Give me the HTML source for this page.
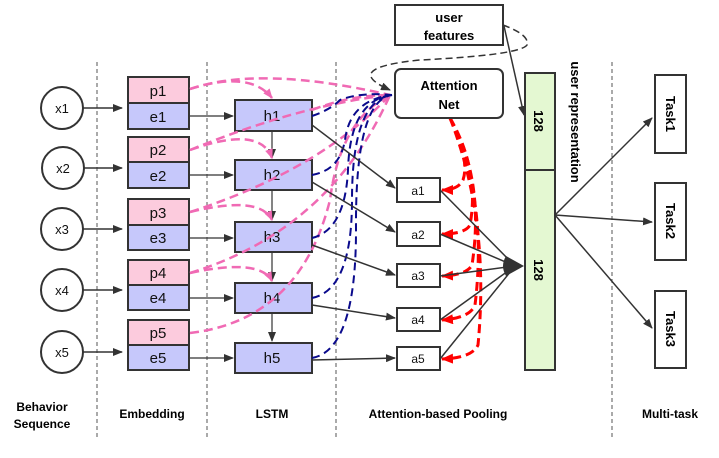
<!DOCTYPE html>
<html><head><style>
body{margin:0;background:#fff;}
svg text{font-family:"Comic Sans MS","Liberation Sans",sans-serif;}
</style></head><body>
<svg width="719" height="453" viewBox="0 0 719 453" xmlns="http://www.w3.org/2000/svg">
<defs>
<marker id="ak" markerWidth="10" markerHeight="8" refX="9" refY="4" orient="auto" markerUnits="userSpaceOnUse"><path d="M0,0 L10,4 L0,8 z" fill="#333"/></marker>
<marker id="ap" markerWidth="10" markerHeight="8" refX="9" refY="4" orient="auto" markerUnits="userSpaceOnUse"><path d="M0,0 L10,4 L0,8 z" fill="#f06ab4"/></marker>
<marker id="ar" markerWidth="12" markerHeight="10" refX="11" refY="5" orient="auto" markerUnits="userSpaceOnUse"><path d="M0,0 L12,5 L0,10 z" fill="#f00"/></marker>
</defs>
<g stroke="#555" stroke-dasharray="4,3" stroke-width="1">
<line x1="97" y1="62" x2="97" y2="440"/><line x1="207" y1="62" x2="207" y2="440"/>
<line x1="336" y1="62" x2="336" y2="440"/><line x1="612" y1="62" x2="612" y2="440"/>
</g>
<!-- circles -->
<g fill="#fff" stroke="#333" stroke-width="2">
<circle cx="62" cy="108" r="21"/><circle cx="63" cy="168" r="21"/><circle cx="62" cy="229" r="21"/><circle cx="62" cy="290" r="21"/><circle cx="62" cy="352" r="21"/>
</g>
<g font-size="13" text-anchor="middle" fill="#111">
<text x="62" y="113">x1</text><text x="63" y="173">x2</text><text x="62" y="234">x3</text><text x="62" y="295">x4</text><text x="62" y="357">x5</text>
</g>
<g stroke="#333" stroke-width="1.5" marker-end="url(#ak)">
<line x1="83" y1="108" x2="122" y2="108"/><line x1="84" y1="168" x2="122" y2="168"/><line x1="83" y1="229" x2="122" y2="229"/><line x1="83" y1="290" x2="122" y2="290"/><line x1="83" y1="352" x2="122" y2="352"/>
</g>
<!-- embeddings -->
<g stroke="#333" stroke-width="2">
<rect x="128" y="77" width="61" height="26" fill="#fccbdd"/><rect x="128" y="103" width="61" height="26" fill="#c6c8fb"/>
<rect x="128" y="137" width="61" height="25" fill="#fccbdd"/><rect x="128" y="162" width="61" height="26" fill="#c6c8fb"/>
<rect x="128" y="199" width="61" height="26" fill="#fccbdd"/><rect x="128" y="225" width="61" height="25" fill="#c6c8fb"/>
<rect x="128" y="260" width="61" height="25" fill="#fccbdd"/><rect x="128" y="285" width="61" height="25" fill="#c6c8fb"/>
<rect x="128" y="320" width="61" height="25" fill="#fccbdd"/><rect x="128" y="345" width="61" height="25" fill="#c6c8fb"/>
</g>
<g font-size="15" text-anchor="middle" fill="#111">
<text x="158" y="96">p1</text><text x="158" y="122">e1</text><text x="158" y="155">p2</text><text x="158" y="181">e2</text>
<text x="158" y="218">p3</text><text x="158" y="243">e3</text><text x="158" y="278">p4</text><text x="158" y="303">e4</text>
<text x="158" y="338">p5</text><text x="158" y="363">e5</text>
</g>
<g stroke="#333" stroke-width="1.2" marker-end="url(#ak)">
<line x1="190" y1="116" x2="233" y2="116"/><line x1="190" y1="175" x2="233" y2="175"/><line x1="190" y1="238" x2="233" y2="238"/><line x1="190" y1="298" x2="233" y2="298"/><line x1="190" y1="358" x2="233" y2="358"/>
<line x1="272" y1="131" x2="272" y2="158"/><line x1="272" y1="190" x2="272" y2="220"/><line x1="272" y1="252" x2="272" y2="281"/><line x1="272" y1="313" x2="272" y2="341"/>
</g>
<!-- h boxes -->
<g stroke="#333" stroke-width="2" fill="#c6c8fb">
<rect x="235" y="100" width="77" height="31"/><rect x="235" y="160" width="77" height="30"/><rect x="235" y="222" width="77" height="30"/><rect x="235" y="283" width="77" height="30"/><rect x="235" y="343" width="77" height="30"/>
</g>
<g font-size="15" text-anchor="middle" fill="#111">
<text x="272" y="121">h1</text><text x="272" y="180">h2</text><text x="272" y="242">h3</text><text x="272" y="303">h4</text><text x="272" y="363">h5</text>
</g>
<!-- pink dashed -->
<g fill="none" stroke="#f06ab4" stroke-width="2.5" stroke-dasharray="9,5">
<path d="M190,89 Q260,65 390,95"/><path d="M190,89 Q250,70 272,98" marker-end="url(#ap)"/>
<path d="M190,150 Q260,125 272,158" marker-end="url(#ap)"/><path d="M190,150 Q300,105 390,95"/>
<path d="M190,212 Q260,195 272,220" marker-end="url(#ap)"/><path d="M190,212 Q320,170 390,95"/>
<path d="M190,273 Q260,258 272,281" marker-end="url(#ap)"/><path d="M190,273 Q330,230 390,95"/>
<path d="M190,333 Q300,320 330,200 Q340,120 390,95"/>
<path d="M312,110 Q350,95 390,95"/>
</g>
<!-- blue dashed -->
<g fill="none" stroke="#0a0a8c" stroke-width="2" stroke-dasharray="8,5">
<path d="M312,116 Q330,110 340,100 Q360,92 392,95"/>
<path d="M312,175 Q340,170 345,140 Q350,100 392,95"/>
<path d="M312,238 Q345,230 348,170 Q350,100 392,95"/>
<path d="M312,298 Q352,290 352,200 Q352,100 392,95"/>
<path d="M312,358 Q356,350 356,230 Q355,100 392,95"/>
</g>
<!-- gray dashed loop -->
<path d="M503,25 Q530,35 527,45 Q520,55 420,60 Q340,68 390,90" fill="none" stroke="#333" stroke-width="1.5" stroke-dasharray="7,4" marker-end="url(#ak)"/>
<!-- black h->a -->
<g stroke="#333" stroke-width="1.5" marker-end="url(#ak)">
<line x1="312" y1="125" x2="395" y2="188"/><line x1="312" y1="182" x2="395" y2="232"/><line x1="312" y1="245" x2="395" y2="275"/><line x1="312" y1="305" x2="395" y2="318"/><line x1="312" y1="360" x2="395" y2="358"/>
</g>
<!-- a boxes -->
<g stroke="#333" stroke-width="2" fill="#fff">
<rect x="397" y="178" width="43" height="24"/><rect x="397" y="222" width="43" height="24"/><rect x="397" y="264" width="43" height="23"/><rect x="397" y="308" width="43" height="23"/><rect x="397" y="347" width="43" height="23"/>
</g>
<g font-size="12" text-anchor="middle" fill="#111">
<text x="418" y="195">a1</text><text x="418" y="239">a2</text><text x="418" y="280">a3</text><text x="418" y="324">a4</text><text x="418" y="363">a5</text>
</g>
<!-- red dashed -->
<g fill="none" stroke="#f00" stroke-width="3" stroke-dasharray="9,5" marker-end="url(#ar)">
<path d="M450,118 Q470,160 463,180 Q458,190 442,190"/>
<path d="M450,118 Q480,170 470,225 Q465,234 442,234"/>
<path d="M450,118 Q485,180 472,265 Q467,275 442,276"/>
<path d="M450,118 Q488,200 475,305 Q470,318 442,320"/>
<path d="M450,118 Q490,220 478,345 Q472,358 442,359"/>
</g>
<!-- a -> merge -->
<g stroke="#333" stroke-width="1.5">
<line x1="440" y1="190" x2="515" y2="266"/><line x1="440" y1="234" x2="515" y2="266"/><line x1="440" y1="276" x2="515" y2="266"/><line x1="440" y1="320" x2="515" y2="266"/><line x1="440" y1="359" x2="515" y2="266"/>
</g>
<path d="M506,256 L524,266 L506,276 Q500,266 506,256 z" fill="#333"/>
<!-- attention net & user features -->
<rect x="395" y="69" width="108" height="49" rx="6" fill="#fff" stroke="#333" stroke-width="2"/>
<text x="449" y="90" font-size="13" font-weight="bold" text-anchor="middle">Attention</text>
<text x="449" y="109" font-size="13" font-weight="bold" text-anchor="middle">Net</text>
<rect x="395" y="5" width="108" height="40" fill="#fff" stroke="#333" stroke-width="2"/>
<text x="449" y="22" font-size="13" font-weight="bold" text-anchor="middle">user</text>
<text x="449" y="40" font-size="13" font-weight="bold" text-anchor="middle">features</text>
<line x1="504" y1="26" x2="524" y2="115" stroke="#333" stroke-width="1.5" marker-end="url(#ak)"/>
<!-- green bar -->
<rect x="525" y="73" width="30" height="97" fill="#e4f8d2" stroke="#333" stroke-width="2"/>
<rect x="525" y="170" width="30" height="200" fill="#e4f8d2" stroke="#333" stroke-width="2"/>
<text transform="translate(534,121) rotate(90)" font-size="13" font-weight="bold" text-anchor="middle">128</text>
<text transform="translate(534,270) rotate(90)" font-size="13" font-weight="bold" text-anchor="middle">128</text>
<text transform="translate(571,122) rotate(90)" font-size="13" font-weight="bold" text-anchor="middle">user representation</text>
<!-- tasks -->
<g stroke="#333" stroke-width="1.5" marker-end="url(#ak)">
<line x1="555" y1="215" x2="652" y2="118"/><line x1="555" y1="215" x2="652" y2="222"/><line x1="555" y1="215" x2="652" y2="328"/>
</g>
<g fill="#fff" stroke="#333" stroke-width="2">
<rect x="655" y="75" width="31" height="78"/><rect x="655" y="183" width="31" height="77"/><rect x="655" y="291" width="31" height="77"/>
</g>
<g font-size="13" font-weight="bold" text-anchor="middle">
<text transform="translate(666,114) rotate(90)">Task1</text><text transform="translate(666,221) rotate(90)">Task2</text><text transform="translate(666,329) rotate(90)">Task3</text>
</g>
<!-- bottom labels -->
<g font-size="12" font-weight="bold" text-anchor="middle">
<text x="42" y="411">Behavior</text><text x="42" y="428">Sequence</text>
<text x="152" y="418">Embedding</text><text x="272" y="418">LSTM</text>
<text x="438" y="418">Attention-based Pooling</text><text x="670" y="418">Multi-task</text>
</g>
</svg>
</body></html>
